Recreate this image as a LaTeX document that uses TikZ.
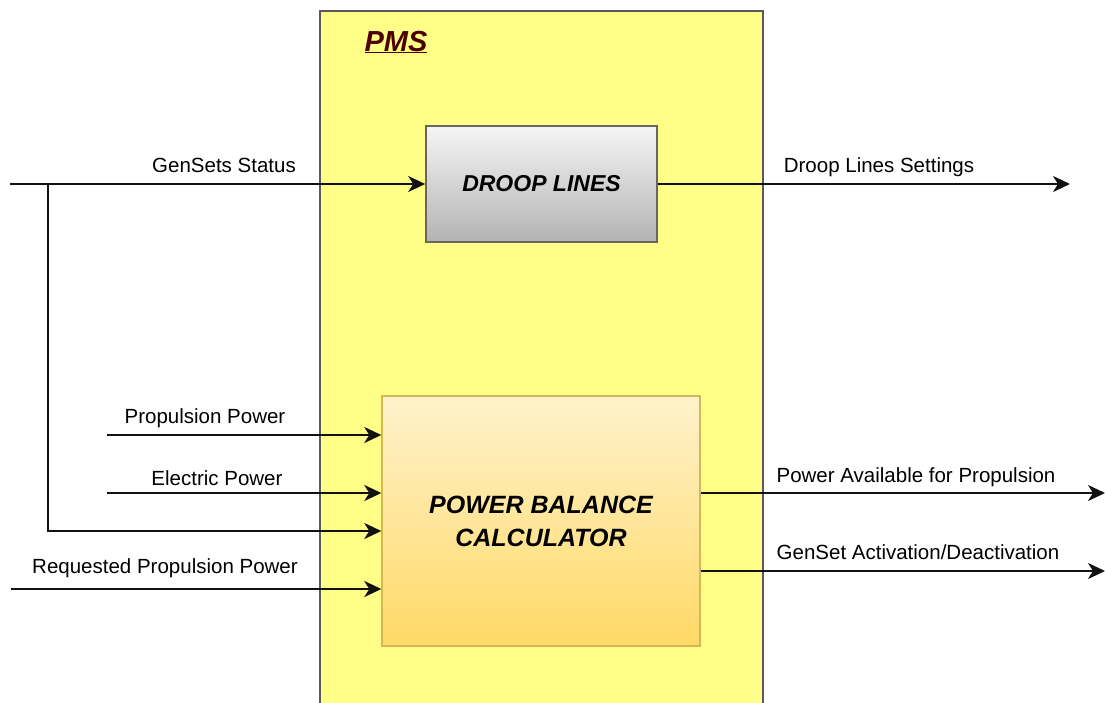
\documentclass[tikz,border=0pt]{standalone}
\usepackage{fontspec}
\setmainfont{Liberation Sans}
\usetikzlibrary{arrows.meta}
\definecolor{pmsyellow}{HTML}{FFFF88}
\definecolor{pmsborder}{HTML}{5A5A5A}
\definecolor{pmsred}{HTML}{4D0000}
\definecolor{droopTop}{HTML}{F5F5F5}
\definecolor{droopBot}{HTML}{B3B3B3}
\definecolor{droopBorder}{HTML}{666666}
\definecolor{pbcTop}{HTML}{FFF2CC}
\definecolor{pbcBot}{HTML}{FFD966}
\definecolor{pbcBorder}{HTML}{D6B656}
\definecolor{wire}{HTML}{111111}
\tikzset{
  lbl/.style={font=\fontsize{20.5}{24}\selectfont, text=black, inner sep=0pt, anchor=base},
  arr/.style={draw=wire, line width=2pt, -{Stealth[length=17pt,width=16pt,inset=5pt]}},
  droopbox/.style={draw=droopBorder, line width=1.6pt, top color=droopTop, bottom color=droopBot,
     minimum width=231pt, minimum height=116pt, inner sep=0pt,
     font=\fontsize{23}{27}\selectfont\bfseries\itshape},
  pbcbox/.style={draw=pbcBorder, line width=1.4pt, top color=pbcTop, bottom color=pbcBot,
     minimum width=318pt, minimum height=250pt, inner sep=0pt, align=center,
     font=\fontsize{25}{33}\selectfont\bfseries\itshape},
  pmsbox/.style={draw=pmsborder, line width=1.8pt, fill=pmsyellow, inner sep=0pt,
     minimum width=443pt, minimum height=720pt}
}
\begin{document}
\begin{tikzpicture}[x=1pt,y=-1pt]
\clip (0,0) rectangle (1105,702);
\fill[white] (0,0) rectangle (1105,702);
% container
\node[pmsbox, anchor=north west] (pms) at (319,10) {};
\node[font=\fontsize{29}{33}\selectfont\bfseries\itshape, text=pmsred, inner sep=0pt, anchor=base] (pmslabel) at (396,51) {\underline{PMS}};
% blocks
\node[droopbox] (droop) at (541.5,184) {DROOP LINES};
\node[pbcbox] (pbc) at (541,521) {POWER BALANCE\\CALCULATOR};
% input coordinates
\coordinate (gsin) at (10,184);
\coordinate (split) at (48,184);
\coordinate (bend) at (48,531);
\coordinate (ppin) at (107,435);
\coordinate (epin) at (107,493);
\coordinate (rpin) at (11,589);
% output coordinates
\coordinate (dlout) at (1070,184);
\coordinate (paout) at (1105,493);
\coordinate (gaout) at (1105,571);
% connectors
\draw[arr] (gsin) -- (droop.west);
\draw[arr] (split) -- (bend) -- (bend -| pbc.west);
\draw[arr] (ppin) -- (ppin -| pbc.west);
\draw[arr] (epin) -- (epin -| pbc.west);
\draw[arr] (rpin) -- (rpin -| pbc.west);
\draw[arr] (droop.east) -- (dlout);
\draw[arr] (pbc.east |- paout) -- (paout);
\draw[arr] (pbc.east |- gaout) -- (gaout);
% labels
\node[lbl] (l1) at (224,172) {GenSets Status};
\node[lbl] (l2) at (879,172) {Droop Lines Settings};
\node[lbl] (l3) at (205,423) {Propulsion Power};
\node[lbl] (l4) at (217,485) {Electric Power};
\node[lbl] (l5) at (165,573) {Requested Propulsion Power};
\node[lbl] (l6) at (916,482) {Power Available for Propulsion};
\node[lbl] (l7) at (918,559) {GenSet Activation/Deactivation};
\end{tikzpicture}
\end{document}
